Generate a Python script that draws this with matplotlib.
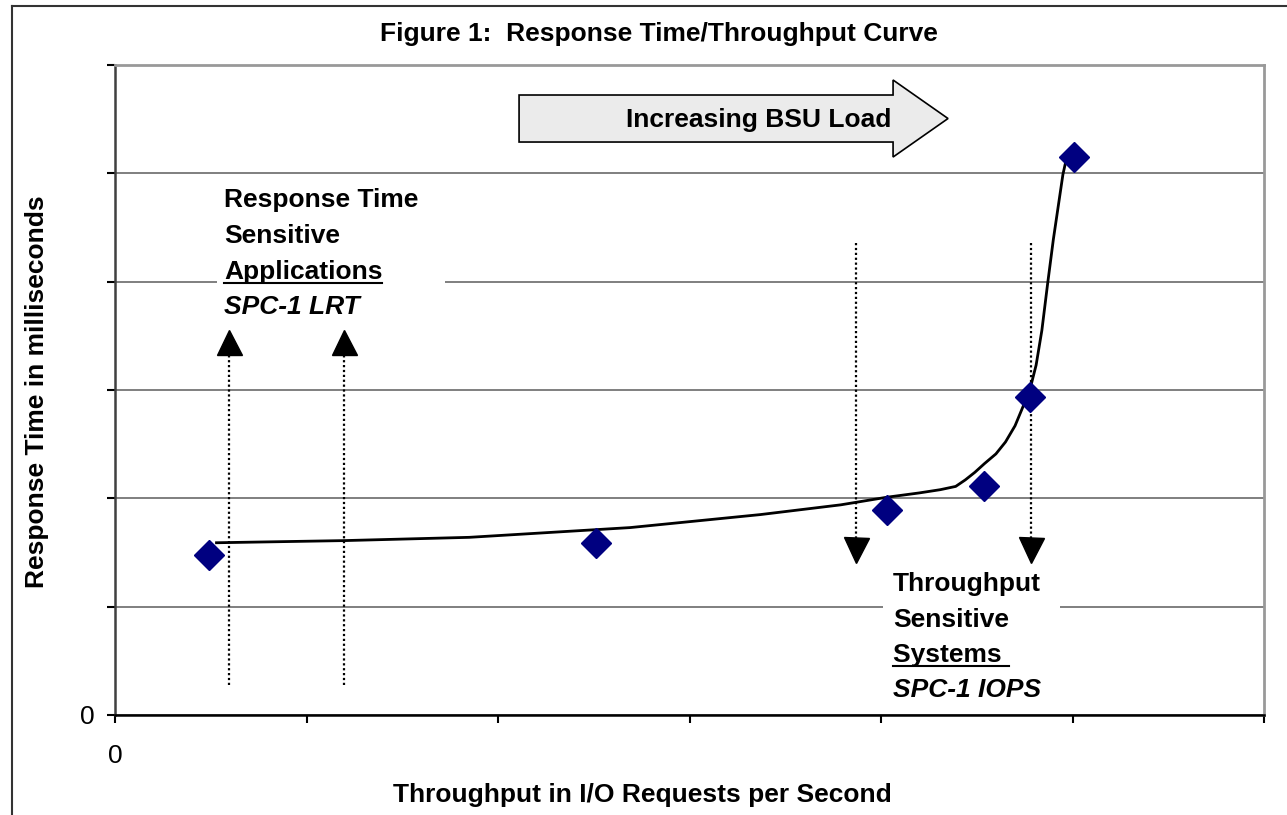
import matplotlib.pyplot as plt
from matplotlib.patches import FancyArrow, Rectangle
from matplotlib.lines import Line2D

plt.rcParams['font.family'] = ['Liberation Sans', 'DejaVu Sans']

# Messpunkte (Rauten)
throughput = [0.49, 2.51, 4.03, 4.54, 4.78, 5.01]
response_time = [1.48, 1.59, 1.89, 2.11, 2.94, 5.15]

# geglaettete Kurve durch die Messpunkte
curve_x = [0.53, 1.20, 1.85, 2.69, 3.37, 3.79, 4.03, 4.20, 4.31, 4.39, 4.44,
           4.49, 4.54, 4.60, 4.65, 4.70, 4.74, 4.78, 4.81, 4.84, 4.87, 4.90,
           4.93, 4.95, 4.97]
curve_y = [1.59, 1.61, 1.64, 1.73, 1.85, 1.94, 2.01, 2.05, 2.08, 2.11, 2.17,
           2.24, 2.32, 2.41, 2.52, 2.67, 2.84, 3.02, 3.23, 3.55, 3.98, 4.39,
           4.75, 4.99, 5.15]

# Lage der gepunkteten Pfeile
lrt_x = [0.595, 1.196]
iops_x = [3.87, 4.783]

ticks = [0, 1, 2, 3, 4, 5, 6]
tick_labels = ['0', '', '', '', '', '', '']

fig = plt.figure(figsize=(12.87, 8.15), dpi=100)
ax = fig.add_axes([115 / 1287, 100 / 815, 1149 / 1287, 650 / 815])
ax.set_xlim(0, 6)
ax.set_ylim(0, 6)

ax.set_xticks(ticks)
ax.set_xticklabels(tick_labels)
ax.set_yticks(ticks)
ax.set_yticklabels(tick_labels)
ax.tick_params(axis='x', length=6, width=1.5, pad=15, labelsize=19)
ax.tick_params(axis='y', length=6, width=1.5, pad=9, labelsize=19)
ax.yaxis.grid(True, color='#6a6a6a', lw=1.2)
ax.set_axisbelow(True)

ax.spines['bottom'].set_color('black')
ax.spines['bottom'].set_linewidth(1.8)
ax.spines['left'].set_color('#404040')
ax.spines['left'].set_linewidth(1.8)
ax.spines['top'].set_color('#999999')
ax.spines['top'].set_linewidth(2)
ax.spines['right'].set_color('#999999')
ax.spines['right'].set_linewidth(2)

# weisse Textfelder ueber dem Gitter
ax.add_patch(Rectangle((0.533, 3.646), 1.19, 1.29, facecolor='white', edgecolor='none', zorder=1))
ax.add_patch(Rectangle((4.01, 0.092), 0.925, 1.246, facecolor='white', edgecolor='none', zorder=1))

# Kurve und Punkte
ax.plot(curve_x, curve_y, color='black', lw=2, zorder=3, solid_joinstyle='round')
ax.plot(throughput, response_time, 'D', color='#000080', markersize=15, zorder=4, linestyle='none')

# gepunktete Pfeile
for x in lrt_x:
    ax.plot([x, x], [0.28, 3.37], color='black', lw=1.6, linestyle=(0, (1, 1.2)), zorder=2)
    ax.plot([x], [3.443], marker='^', color='black', markersize=18, zorder=3)
for x in iops_x:
    ax.plot([x, x], [4.357, 1.6], color='black', lw=1.6, linestyle=(0, (1, 1.2)), zorder=2)
    ax.plot([x], [1.523], marker='v', color='black', markersize=18, zorder=3)

# Blockpfeil
ax.add_patch(FancyArrow(2.110, 5.506, 2.24, 0, width=0.434, head_width=0.711,
                        head_length=0.287, length_includes_head=True,
                        facecolor='#ebebeb', edgecolor='black', lw=1.2, zorder=3))
ax.text(3.36, 5.49, 'Increasing BSU Load', ha='center', va='center',
        fontsize=19, fontweight='bold', zorder=4)

# Beschriftungen
left_lines = [('Response Time', 4.689, 'normal'), ('Sensitive', 4.357, 'normal'),
              ('Applications', 4.025, 'normal'), ('SPC-1 LRT', 3.702, 'italic')]
right_lines = [('Throughput', 1.145, 'normal'), ('Sensitive', 0.812, 'normal'),
               ('Systems ', 0.489, 'normal'), ('SPC-1 IOPS', 0.166, 'italic')]
texts = {}
for s, y, st in left_lines:
    texts[s + 'L'] = ax.text(0.569, y, s, ha='left', va='baseline', fontsize=19,
                             fontweight='bold', style=st, zorder=5)
for s, y, st in right_lines:
    texts[s + 'R'] = ax.text(4.063, y, s, ha='left', va='baseline', fontsize=19,
                             fontweight='bold', style=st, zorder=5)

fig.text(0.512, 0.958, 'Figure 1:  Response Time/Throughput Curve', ha='center',
         va='center', fontsize=19, fontweight='bold')
fig.text(0.499, 0.0245, 'Throughput in I/O Requests per Second', ha='center',
         va='center', fontsize=19, fontweight='bold')
fig.text(0.0288, 0.519, 'Response Time in milliseconds', ha='center', va='center',
         rotation=90, fontsize=19, fontweight='bold')

# Unterstreichungen
fig.canvas.draw()
inv = ax.transData.inverted()
for key, y in [('ApplicationsL', 4.025), ('Systems R', 0.489)]:
    bb = texts[key].get_window_extent()
    x0 = inv.transform((bb.x0, 0))[0]
    x1 = inv.transform((bb.x1, 0))[0]
    ax.plot([x0, x1], [y - 0.04, y - 0.04], color='black', lw=1.5, zorder=5)

# Rahmen
fig.add_artist(Line2D([12 / 1287, 12 / 1287], [0, 1 - 6 / 815], color='#333333', lw=1.5))
fig.add_artist(Line2D([12 / 1287, 1], [1 - 6 / 815, 1 - 6 / 815], color='#333333', lw=1.5))

fig.savefig('out.png', dpi=100)
